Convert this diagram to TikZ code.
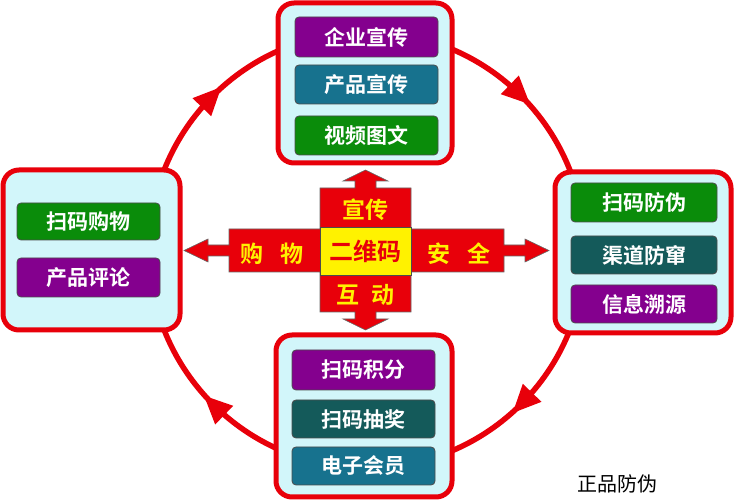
\documentclass[tikz,border=0pt]{standalone}
\usepackage{fontspec}
\setmainfont{Noto Sans CJK SC Bold}
\newfontfamily\serifcjk{Noto Sans CJK SC}
\definecolor{cyanbg}{HTML}{D2F6FA}
\definecolor{bpurple}{HTML}{84008E}
\definecolor{bteal}{HTML}{17728E}
\definecolor{bgreen}{HTML}{0A8C0A}
\definecolor{bdark}{HTML}{145A5A}
\definecolor{ared}{HTML}{E8000A}
\tikzset{
  panel/.style={draw=ared,line width=5pt,fill=cyanbg,rounded corners=16pt},
  btn/.style={draw=black!70,line width=0.8pt,rounded corners=4pt,text=white,font=\fontsize{21}{21}\selectfont,inner sep=0pt},
  crossfill/.style={fill=ared,draw=black!60,line width=0.6pt},
  ytxt/.style={text=yellow,font=\fontsize{23}{23}\selectfont},
}
\begin{document}
\begin{tikzpicture}[x=1pt,y=-1pt]
\useasboundingbox (0,0) rectangle (734,502);
% circle
\node[circle,minimum size=436pt,draw=ared,line width=5.5pt,inner sep=0pt] (ring) at (367,250) {};
% arrowheads on ring (clockwise)
\foreach \ang in {134,44,-46,-136}{
  \begin{scope}[shift={(ring.center)}]
    \fill[ared,rotate=-\ang] (218,0) ++(0,16) -- ++(-13,-28) -- ++(26,0) -- cycle;
  \end{scope}
}
% panels
\node[panel,minimum width=174pt,minimum height=160pt] (top) at (365,83) {};
\node[panel,minimum width=177pt,minimum height=160pt] (left) at (91.5,250) {};
\node[panel,minimum width=176pt,minimum height=161pt] (right) at (643,252.5) {};
\node[panel,minimum width=176pt,minimum height=162pt] (bot) at (364,416) {};
% buttons
\node[btn,fill=bpurple,minimum width=143pt,minimum height=40pt] (b1) at (366.5,37) {企业宣传};
\node[btn,fill=bteal,minimum width=143pt,minimum height=39pt] (b2) at (366.5,84.5) {产品宣传};
\node[btn,fill=bgreen,minimum width=143pt,minimum height=39pt] (b3) at (366.5,135.5) {视频图文};
\node[btn,fill=bgreen,minimum width=143pt,minimum height=37pt] (l1) at (88.5,221.5) {扫码购物};
\node[btn,fill=bpurple,minimum width=143pt,minimum height=39pt] (l2) at (88.5,277.5) {产品评论};
\node[btn,fill=bgreen,minimum width=146pt,minimum height=39pt] (r1) at (644,202.5) {扫码防伪};
\node[btn,fill=bdark,minimum width=146pt,minimum height=38pt] (r2) at (644,255) {渠道防窜};
\node[btn,fill=bpurple,minimum width=146pt,minimum height=38pt] (r3) at (644,304) {信息溯源};
\node[btn,fill=bpurple,minimum width=143pt,minimum height=40pt] (d1) at (363.5,370) {扫码积分};
\node[btn,fill=bdark,minimum width=143pt,minimum height=38pt] (d2) at (363.5,419) {扫码抽奖};
\node[btn,fill=bteal,minimum width=143pt,minimum height=38pt] (d3) at (363.5,466) {电子会员};
% cross
\draw[crossfill] (320,188) -- (355,188) -- (355,181) -- (343,181) -- (365.5,170) -- (388,181) -- (376,181) -- (376,188) -- (411,188)
  -- (411,229) -- (504,229) -- (504,245) -- (525,245) -- (525,239) -- (549,250.5) -- (525,262) -- (525,256) -- (504,256) -- (504,272) -- (411,272)
  -- (411,312) -- (376,312) -- (376,319) -- (388,319) -- (365.5,330) -- (343,319) -- (355,319) -- (355,312) -- (320,312)
  -- (320,272) -- (229,272) -- (229,256) -- (208,256) -- (208,262) -- (184,250.5) -- (208,239) -- (208,245) -- (229,245) -- (229,229) -- (320,229) -- cycle;
\node[fill=yellow,draw=black!70,line width=0.6pt,minimum width=91pt,minimum height=48pt,text=ared,font=\fontsize{24}{24}\selectfont,inner sep=0pt] (core) at (365.5,251) {二维码};
\node[ytxt] (t1) at (365.5,210) {宣传};
\node[ytxt] (t2) at (365.5,295) {互\hspace{0.5em}动};
\node[ytxt] (t3) at (272,254) {购\hspace{0.7em}物};
\node[ytxt] (t4) at (459,254) {安\hspace{0.7em}全};
\node[text=black,font=\serifcjk\fontsize{20}{20}\selectfont] (lbl) at (617,484) {正品防伪};
\end{tikzpicture}
\end{document}
